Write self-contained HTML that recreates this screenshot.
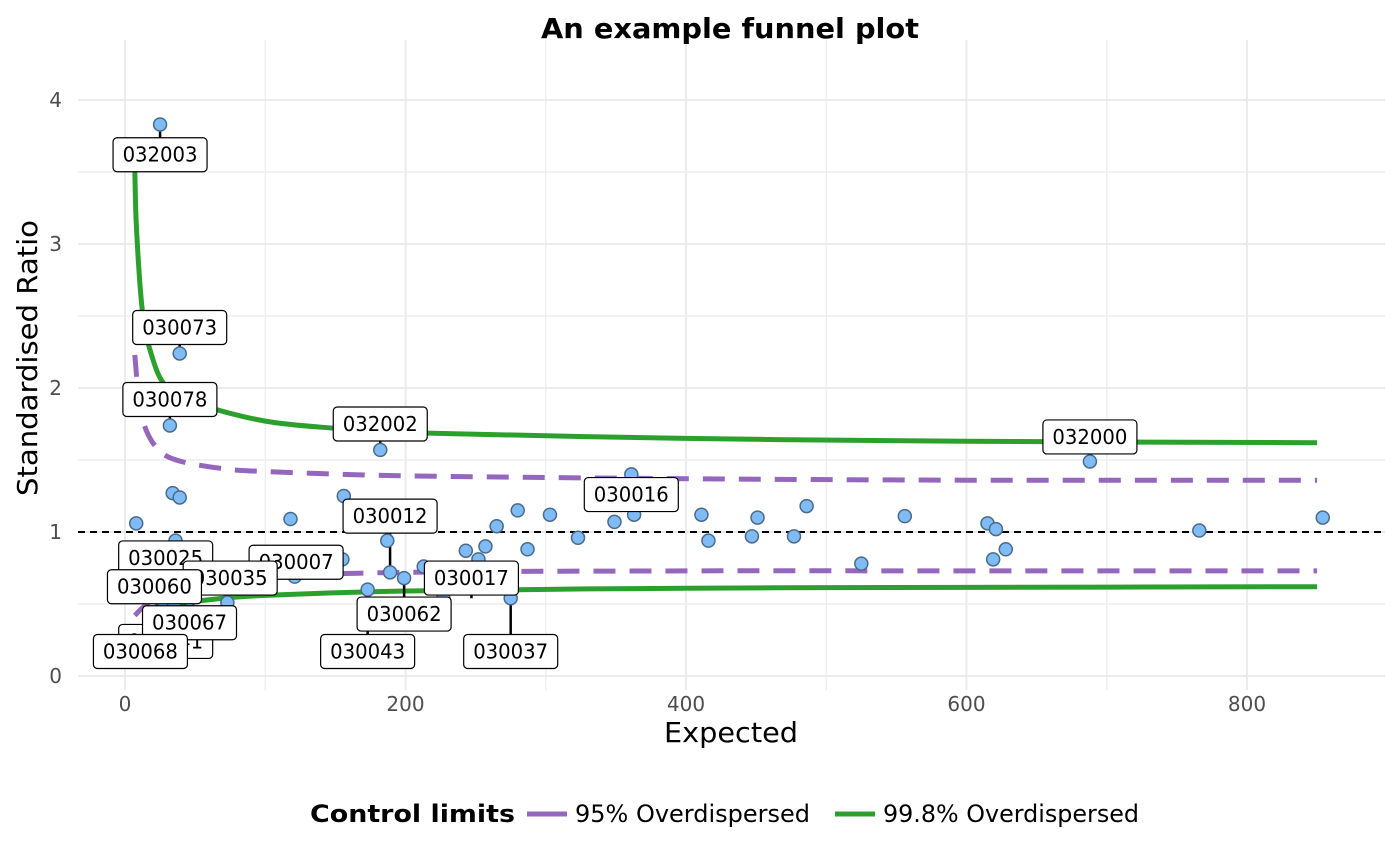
<!DOCTYPE html>
<html><head><meta charset="utf-8"><style>
html,body{margin:0;padding:0;background:#fff;}
svg{display:block;font-family:"DejaVu Sans","Liberation Sans",sans-serif;}
</style></head><body>
<svg id="chart" width="1400" height="866" viewBox="0 0 1400 866">
<g id="grid"></g>
<g id="lines"></g>
<g id="leaders"></g>
<g id="points"></g>
<g id="labels"></g>
<g id="axes"></g>
<text x="730" y="38" text-anchor="middle" font-size="28" font-weight="bold" textLength="378" lengthAdjust="spacingAndGlyphs">An example funnel plot</text>
<text x="731" y="742" text-anchor="middle" font-size="28" textLength="134" lengthAdjust="spacingAndGlyphs">Expected</text>
<text transform="translate(37,358) rotate(-90)" text-anchor="middle" font-size="28" textLength="276" lengthAdjust="spacingAndGlyphs">Standardised Ratio</text>
<g>
<text x="310" y="822" font-size="24" font-weight="bold" textLength="205" lengthAdjust="spacingAndGlyphs">Control limits</text>
<line x1="527" y1="814" x2="567" y2="814" stroke="#9467bd" stroke-width="5"/>
<text x="575" y="822" font-size="24" textLength="235" lengthAdjust="spacingAndGlyphs">95% Overdispersed</text>
<line x1="835" y1="814" x2="875" y2="814" stroke="#2ca02c" stroke-width="5"/>
<text x="883" y="822" font-size="24" textLength="256" lengthAdjust="spacingAndGlyphs">99.8% Overdispersed</text>
</g>
</svg>
<script>
const xTicks=[0,200,400,600,800];
const yTicks=[0,1,2,3,4];
const up998E=[7,8,11,14,18,25,35,55,100,150,200,400,600,850];
const upper998=[3.51,3.15,2.68,2.42,2.26,2.07,1.97,1.88,1.77,1.72,1.69,1.65,1.63,1.62];
const up95E=[7,10,15,25,40,70,100,200,400,600,850];
const upper95=[2.23,1.92,1.71,1.56,1.49,1.44,1.42,1.39,1.37,1.36,1.36];
const low95E=[7,12,20,30,45,70,100,200,400,600,850];
const lower95=[0.42,0.47,0.53,0.58,0.62,0.66,0.69,0.72,0.73,0.73,0.73];
const low998E=[12,16,25,40,60,100,200,400,600,850];
const lower998=[0.3,0.37,0.45,0.5,0.53,0.56,0.59,0.61,0.615,0.62];
const ptE=[25,39,32,182,688,361,156,34,39,8,118,280,303,265,287,323,349,363,411,416,447,451,477,486,525,556,615,621,619,628,766,854,243,257,252,36,155,187,189,199,173,227,275,73,121,85,213,25,46,28,35,10];
const ptY=[3.83,2.24,1.74,1.57,1.49,1.40,1.25,1.27,1.24,1.06,1.09,1.15,1.12,1.04,0.88,0.96,1.07,1.12,1.12,0.94,0.97,1.10,0.97,1.18,0.78,1.11,1.06,1.02,0.81,0.88,1.01,1.10,0.87,0.90,0.81,0.94,0.81,0.94,0.72,0.68,0.60,0.54,0.54,0.51,0.69,0.74,0.76,0.53,0.53,0.49,0.5,0.3];
const labNames=["032003","030073","030078","032002","032000","030016","030012","030041","030025","030007","030035","030060","030062","030017","030067","030043","030037","030068"];
const labPtE=[25,39,32,182,688,361,189,28,36,121,73,25,199,247,46,173,275,10];
const labPtY=[3.83,2.24,1.74,1.57,1.49,1.40,0.72,0.49,0.94,0.69,0.51,0.53,0.68,0.54,0.53,0.60,0.54,0.3];
const labE=[25,39,32,182,688,361,189,29,29,122,75,21,199,247,46,173,275,11];
const labY=[3.62,2.42,1.92,1.75,1.66,1.26,1.11,0.24,0.82,0.79,0.68,0.62,0.43,0.68,0.37,0.17,0.17,0.17];
const NS="http://www.w3.org/2000/svg";
const X=v=>125+v*1.4025, Y=v=>676-v*144;
function mk(tag,attrs,parent){const e=document.createElementNS(NS,tag);for(const k in attrs)e.setAttribute(k,attrs[k]);parent.appendChild(e);return e;}
const grid=document.getElementById('grid');
for(let v=-0.5;v<=4.25;v+=0.5){if(Y(v)<40||Y(v)>690)continue;const l=mk('line',{x1:78,x2:1385,y1:Y(v),y2:Y(v),stroke:'#ebebeb','stroke-width':Number.isInteger(v)?2:1.2},grid);
}
for(let v=-100;v<=900;v+=100){if(X(v)<78||X(v)>1385)continue;const l=mk('line',{x1:X(v),x2:X(v),y1:40,y2:690,stroke:'#ebebeb','stroke-width':v%200===0?2:1.2},grid);
}
const axes=document.getElementById('axes');
xTicks.forEach(v=>{const t=mk('text',{x:X(v),y:711,'text-anchor':'middle','font-size':20,fill:'#4d4d4d'},axes);t.textContent=v;
});
yTicks.forEach(v=>{const t=mk('text',{x:62,y:Y(v)+7,'text-anchor':'end','font-size':20,fill:'#4d4d4d'},axes);t.textContent=v;
});
const lines=document.getElementById('lines');
function smooth(pts){let d='M'+pts[0][0].toFixed(1)+','+pts[0][1].toFixed(1);
for(let i=0;i<pts.length-1;i++){const p0=pts[Math.max(0,i-1)],p1=pts[i],p2=pts[i+1],p3=pts[Math.min(pts.length-1,i+2)];
const c1=[p1[0]+(p2[0]-p0[0])/6,p1[1]+(p2[1]-p0[1])/6],c2=[p2[0]-(p3[0]-p1[0])/6,p2[1]-(p3[1]-p1[1])/6];
d+=' C'+c1.map(v=>v.toFixed(1)).join(',')+' '+c2.map(v=>v.toFixed(1)).join(',')+' '+p2[0].toFixed(1)+','+p2[1].toFixed(1);}return d;}
function path(es,ys,color,dash,name){const d=smooth(es.map((e,i)=>[X(e),Y(ys[i])]));
const p=mk('path',{d:d,fill:'none',stroke:color,'stroke-width':5},lines);if(dash)p.setAttribute('stroke-dasharray',dash);
}
const ref=mk('line',{x1:78,x2:1385,y1:Y(1),y2:Y(1),stroke:'#000','stroke-width':2,'stroke-dasharray':'7,5'},lines);

path(up95E,upper95,'#9467bd','22,14','upper-95-limit');
path(low95E,lower95,'#9467bd','22,14','lower-95-limit');
path(up998E,upper998,'#2ca02c',null,'upper-998-limit');
path(low998E,lower998,'#2ca02c',null,'lower-998-limit');
const lead=document.getElementById('leaders');
labNames.forEach((n,i)=>{const l=mk('line',{x1:X(labPtE[i]),y1:Y(labPtY[i]),x2:X(labE[i]),y2:Y(labY[i]),stroke:'#000','stroke-width':2.5},lead);
});
const pts=document.getElementById('points');
ptE.forEach((e,i)=>{const c=mk('circle',{cx:X(e),cy:Y(ptY[i]),r:6.5,fill:'#7fbbf5',stroke:'#4a6a88','stroke-width':1.5},pts);
});
const labs=document.getElementById('labels');
labNames.forEach((n,i)=>{const g=mk('g',{},labs);
const cx=X(labE[i]),cy=Y(labY[i]);
mk('rect',{x:cx-47,y:cy-17,width:94,height:34,rx:4,fill:'#fff',stroke:'#000','stroke-width':1.2},g);
const t=mk('text',{x:cx,y:cy+7,'text-anchor':'middle','font-size':20,textLength:75,lengthAdjust:'spacingAndGlyphs'},g);t.textContent=n;});
</script>
</body></html>
